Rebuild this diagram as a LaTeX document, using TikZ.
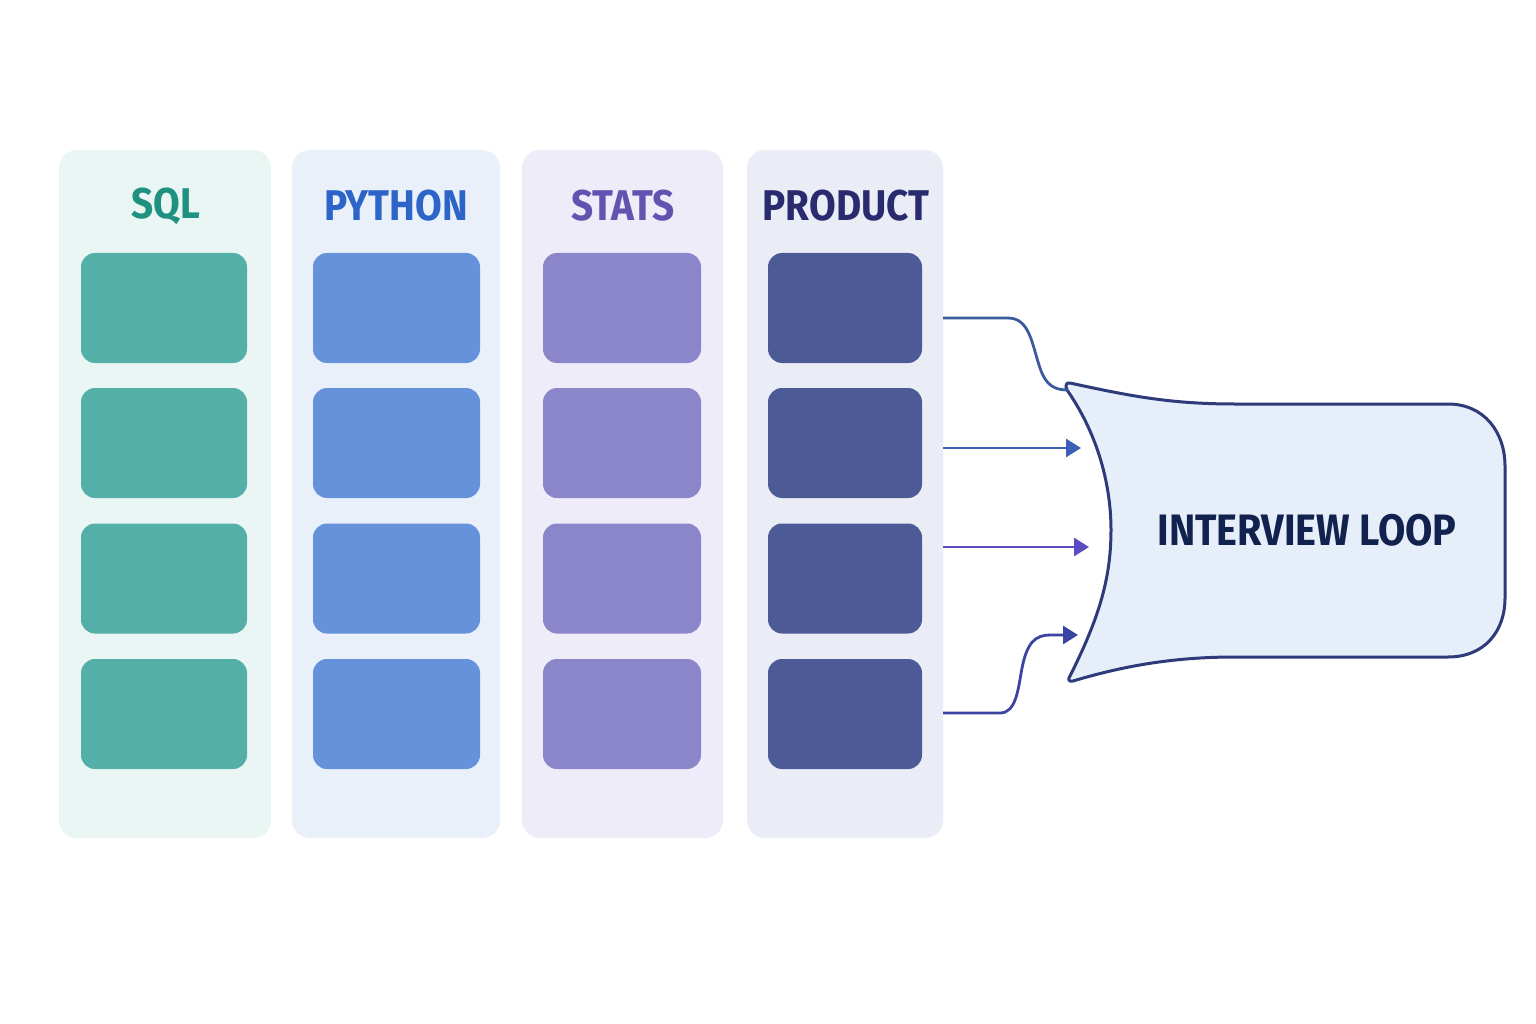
\documentclass[tikz,border=0pt]{standalone}
\usepackage{fontspec}
\setmainfont{Fira Sans}
\newfontfamily\headfont[FakeStretch=0.9]{Fira Sans}
\usepackage{tikz}
\usetikzlibrary{arrows.meta}

\definecolor{sqlbg}{HTML}{EAF6F3}
\definecolor{pybg}{HTML}{EAF0FA}
\definecolor{statbg}{HTML}{EEECF8}
\definecolor{prodbg}{HTML}{EAEDF6}
\definecolor{sqlbox}{HTML}{53AFA8}
\definecolor{pybox}{HTML}{6592DB}
\definecolor{statbox}{HTML}{8B85C9}
\definecolor{prodbox}{HTML}{4C5B96}
\definecolor{sqltxt}{HTML}{1E9180}
\definecolor{pytxt}{HTML}{2C64C8}
\definecolor{stattxt}{HTML}{6452B0}
\definecolor{prodtxt}{HTML}{2A2B6E}
\definecolor{loopbg}{HTML}{E6EEF9}
\definecolor{loopline}{HTML}{2E3A7A}
\definecolor{looptxt}{HTML}{12224F}
\definecolor{wireA}{HTML}{3A5C9E}
\definecolor{wireB}{HTML}{3D5FB5}
\definecolor{wireC}{HTML}{5B4DC2}
\definecolor{wireD}{HTML}{3B44A0}

\begin{document}
\begin{tikzpicture}[x=1pt,y=-1pt]

        \useasboundingbox[fill=white] (0,0) rectangle (1536,1024);

        % columns
        \begin{scope}[every node/.style={rounded corners=18pt, inner sep=0pt, minimum height=688pt}]
          \node[fill=sqlbg,  minimum width=212pt] (sqlcol)  at (165,494)   {};
          \node[fill=pybg,   minimum width=208pt] (pycol)   at (396,494)   {};
          \node[fill=statbg, minimum width=201pt] (statcol) at (622.5,494) {};
          \node[fill=prodbg, minimum width=196pt] (prodcol) at (845,494)   {};
        \end{scope}

        % headers
        \begin{scope}[every node/.style={font=\headfont\bfseries\fontsize{43}{43}\selectfont}]
          \node[text=sqltxt]  (sqlhead)  at (166,206) {SQL};
          \node[text=pytxt]   (pyhead)   at (396,206) {PYTHON};
          \node[text=stattxt] (stathead) at (623,206) {STATS};
          \node[text=prodtxt] (prodhead) at (846,206) {PRODUCT};
        \end{scope}

        % topic boxes
        \begin{scope}[every node/.style={rounded corners=14pt, inner sep=0pt, minimum height=110pt}]
          \node[fill=sqlbox, minimum width=166pt] (sql1) at (164,308) {};
          \node[fill=sqlbox, minimum width=166pt] (sql2) at (164,443) {};
          \node[fill=sqlbox, minimum width=166pt] (sql3) at (164,578.5) {};
          \node[fill=sqlbox, minimum width=166pt] (sql4) at (164,714) {};

          \node[fill=pybox, minimum width=167pt] (py1) at (396.5,308) {};
          \node[fill=pybox, minimum width=167pt] (py2) at (396.5,443) {};
          \node[fill=pybox, minimum width=167pt] (py3) at (396.5,578.5) {};
          \node[fill=pybox, minimum width=167pt] (py4) at (396.5,714) {};

          \node[fill=statbox, minimum width=158pt] (stat1) at (622,308) {};
          \node[fill=statbox, minimum width=158pt] (stat2) at (622,443) {};
          \node[fill=statbox, minimum width=158pt] (stat3) at (622,578.5) {};
          \node[fill=statbox, minimum width=158pt] (stat4) at (622,714) {};

          \node[fill=prodbox, minimum width=154pt] (prod1) at (845,308) {};
          \node[fill=prodbox, minimum width=154pt] (prod2) at (845,443) {};
          \node[fill=prodbox, minimum width=154pt] (prod3) at (845,578.5) {};
          \node[fill=prodbox, minimum width=154pt] (prod4) at (845,714) {};
        \end{scope}

        % interview loop
        \draw[loopline, fill=loopbg, line width=3pt, line join=round]
          (1070,383) .. controls (1130,396) and (1170,404) .. (1235,404)
          -- (1448,404) .. controls (1484,404) and (1505,432) .. (1505,466)
          -- (1505,598) .. controls (1505,632) and (1484,657) .. (1448,657)
          -- (1235,657) .. controls (1170,657) and (1120,667) .. (1073,681)
          .. controls (1068,682) and (1068,679) .. (1070,676)
          .. controls (1098,620) and (1111,580) .. (1111,530)
          .. controls (1111,480) and (1095,430) .. (1067,390)
          .. controls (1065,386) and (1066,382) .. (1070,383) -- cycle;
        \node[text=looptxt, font=\headfont\bfseries\fontsize{44}{44}\selectfont] (loop) at (1307,530) {INTERVIEW LOOP};

        \coordinate (out1) at (943,318);
        \coordinate (out2) at (943,448);
        \coordinate (out3) at (943,547);
        \coordinate (out4) at (943,713);
        \coordinate (in1) at (1068,390);
        \coordinate (in2) at (1081,448);
        \coordinate (in3) at (1089,547);
        \coordinate (in4) at (1078,635);

        % connectors
        \begin{scope}[line width=2.8pt, >={Triangle[length=15pt,width=18pt]}]
          \draw[wireA] (out1) -- (1008,318) .. controls (1030,318) and (1032,345) .. (1040,368)
                       .. controls (1046,386) and (1055,390) .. (in1);
          \draw[wireB, ->] (out2) -- (in2);
          \draw[wireC, ->] (out3) -- (in3);
          \draw[wireD, ->] (out4) -- (1000,713) .. controls (1016,713) and (1018,690) .. (1022,668)
                       .. controls (1027,643) and (1035,635) .. (1050,635) -- (in4);
        \end{scope}
      \end{tikzpicture}
\end{document}
